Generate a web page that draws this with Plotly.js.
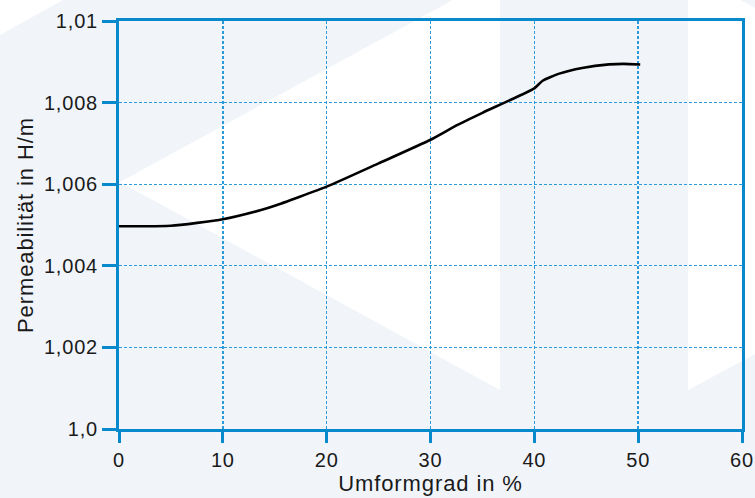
<!DOCTYPE html>
<html>
<head>
<meta charset="utf-8">
<script src="https://cdn.plot.ly/plotly-3.0.1.min.js"></script>
<style>
html,body{margin:0;padding:0;background:#f1f5fa;}
#chart{width:755px;height:498px;}
#chart .xtick text, #chart .ytick text{letter-spacing:0.8px;}
#chart .xtitle, #chart .ytitle{letter-spacing:0.9px;}
</style>
</head>
<body>
<div id="chart"></div>
<script>
// Data
const umformgrad = [0, 5, 10, 13.6, 15, 20, 25, 30, 32.5, 35, 40, 40.8, 42.4, 44.6, 47.2, 48.6, 50.2];
const permeabilitaet = [1.00497, 1.00498, 1.00514, 1.00536, 1.00547, 1.00594, 1.00651, 1.00709, 1.00744, 1.00775, 1.00835, 1.008535, 1.00871, 1.00885, 1.008938, 1.00895, 1.008935];
const xTickVals = [0, 10, 20, 30, 40, 50, 60];
const xTickText = ["0", "10", "20", "30", "40", "50", "60"];
const yTickVals = [1.0, 1.002, 1.004, 1.006, 1.008, 1.01];
const yTickText = ["1,0", "1,002", "1,004", "1,006", "1,008", "1,01"];
const xTitle = "Umformgrad in %";
const yTitle = "Permeabilität in H/m";

const blue = "#0789cc";
const gridBlue = "#2a9bd8";
const tickFont = {family: "Liberation Sans, Arial, sans-serif", size: 20, color: "#1a1a1a"};
const titleFont = {family: "Liberation Sans, Arial, sans-serif", size: 22, color: "#1a1a1a"};

const trace = {
  x: umformgrad,
  y: permeabilitaet,
  type: "scatter",
  mode: "lines",
  line: {color: "#000000", width: 2.6, shape: "spline", smoothing: 0.5},
  hoverinfo: "skip"
};

function axisBase() {
  return {
    showline: true, linecolor: blue, linewidth: 3, mirror: true,
    ticks: "outside", tickcolor: blue, tickwidth: 3,
    showgrid: true, gridcolor: gridBlue, gridwidth: 1.4, griddash: "3px,2px",
    zeroline: false, tickfont: tickFont, fixedrange: true
  };
}

const xaxis = Object.assign(axisBase(), {
  range: [0, 60], tickmode: "array", tickvals: xTickVals, ticktext: xTickText,
  ticklen: 11,
  title: {text: xTitle, font: titleFont, standoff: 6}
});
const yaxis = Object.assign(axisBase(), {
  range: [1.0, 1.01], tickmode: "array", tickvals: yTickVals, ticktext: yTickText,
  ticklen: 14,
  title: {text: yTitle, font: titleFont, standoff: 9}
});

function P(px, py) { // pixel to paper coords
  const l = 119, t = 21, w = 623, h = 408;
  return ((px - l) / w).toFixed(4) + "," + ((t + h - py) / h).toFixed(4);
}
const shapeStyle = {type: "path", xref: "paper", yref: "paper", fillcolor: "#ffffff", line: {width: 0}, layer: "below"};
const shapes = [
  Object.assign({path: "M" + P(0,0) + " L" + P(63,0) + " L" + P(0,35) + " Z"}, shapeStyle),
  Object.assign({path: "M" + P(120,182) + " L" + P(453,0) + " L" + P(500,0) + " L" + P(500,390) + " Z"}, shapeStyle),
  Object.assign({path: "M" + P(688,0) + " L" + P(740,0) + " L" + P(755,8) + " L" + P(755,354) + " L" + P(688,390) + " Z"}, shapeStyle)
];

const layout = {
  width: 755, height: 498,
  margin: {l: 119, r: 13, t: 21, b: 69},
  paper_bgcolor: "#f1f5fa",
  plot_bgcolor: "rgba(0,0,0,0)",
  showlegend: false,
  font: tickFont,
  xaxis: xaxis,
  yaxis: yaxis,
  shapes: shapes
};

Plotly.newPlot("chart", [trace], layout, {displayModeBar: false, staticPlot: true});
</script>
</body>
</html>
